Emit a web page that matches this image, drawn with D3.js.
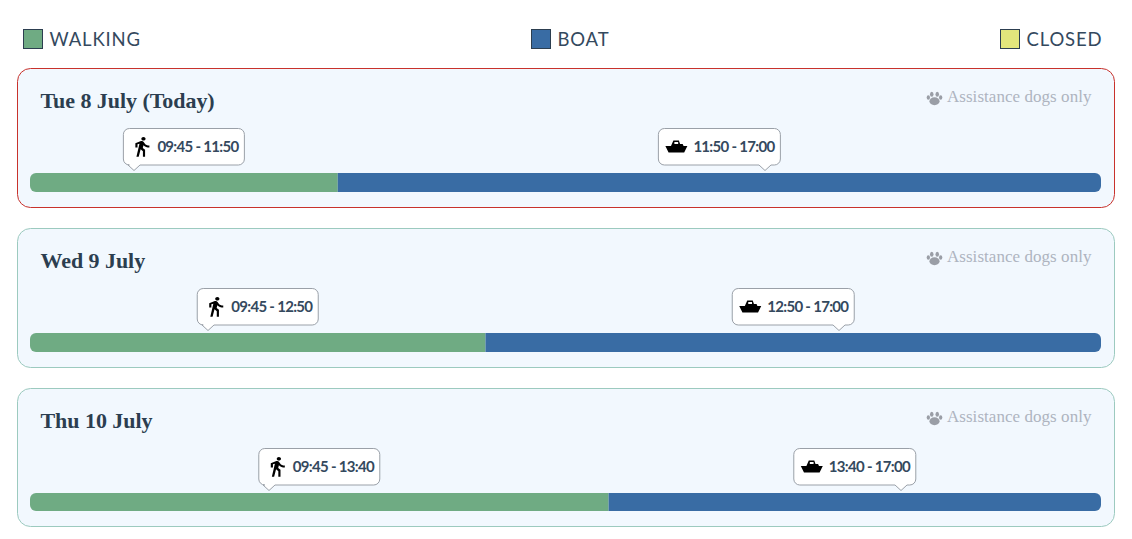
<!DOCTYPE html>
<html>
<head>
<meta charset="utf-8">
<script src="https://cdn.jsdelivr.net/npm/d3@7"></script>
<style>
  html, body { margin: 0; padding: 0; background: #fff; }
  svg { display: block; }
  .legend-label { font-family: Lato, sans-serif; font-weight: 400; font-size: 18.5px; letter-spacing: .85px; fill: #34495e; }
  .day-title { font-family: "Liberation Serif", serif; font-weight: 700; font-size: 22px; letter-spacing: -.05px; fill: #2c3e50; }
  .dogs { font-family: "Liberation Serif", serif; font-size: 17px; letter-spacing: .05px; fill: #aeb4c0; }
  .tip-text { font-family: Lato, sans-serif; font-weight: 700; font-size: 15px; letter-spacing: -.7px; fill: #34495e; }
</style>
</head>
<body>
<div id="chart"></div>
<script>
// Values
const days = ['Tue 8 July (Today)', 'Wed 9 July', 'Thu 10 July'];
const todayFlags = [true, false, false];
const openTimes = ['09:45', '09:45', '09:45'];
const changeTimes = ['11:50', '12:50', '13:40'];
const closeTimes = ['17:00', '17:00', '17:00'];
const legendNames = ['WALKING', 'BOAT', 'CLOSED'];
const legendColors = ['#6fab83', '#396ca4', '#e2e67c'];
const dogsNote = 'Assistance dogs only';

const width = 1132;
const height = 539;
const parseTime = d3.timeParse('%H:%M');

const x = d3.scaleTime()
  .domain([parseTime('09:45'), parseTime('17:00')])
  .range([30, 1101]);

const cardY = d3.scalePoint().domain(days).range([68.5, 388.5]);
const cardHeights = [139, 139, 138];

const svg = d3.select('#chart').append('svg')
  .attr('width', width)
  .attr('height', height);

// Legend
const legendX = [23.5, 531.5, 1000.5];
const legend = svg.selectAll('.legend').data(legendNames).join('g')
  .attr('class', 'legend')
  .attr('transform', (d, i) => `translate(${legendX[i]},29.5)`);
legend.append('rect')
  .attr('width', 19).attr('height', 19)
  .attr('fill', (d, i) => legendColors[i])
  .attr('stroke', '#2c3e50').attr('stroke-width', 1);
legend.append('text')
  .attr('class', 'legend-label')
  .attr('x', 26).attr('y', 16)
  .text(d => d);

const walkIcon = 'M13.5 5.5c1.1 0 2-.9 2-2s-.9-2-2-2-2 .9-2 2 .9 2 2 2zM9.8 8.9L7 23h2.1l1.8-8 2.1 2v6h2v-7.5l-2.1-2 .6-3C14.8 12 16.8 13 19 13v-2c-1.9 0-3.5-1-4.3-2.4l-1-1.6c-.4-.6-1-1-1.7-1-.3 0-.5.1-.8.1L6 8.3V13h2V9.6l1.8-.7';
const boatIcon = 'M8 0h5.5l1.2 3.6h2.6l.9 1.9H22L18.8 12H3.2L0 5.5h5.6zM9 1.4v2h3.8v-2z';

function tooltip(g, midX, anchor, barTop, label, kind) {
  // box sits relative to the middle of its segment, the arrow is offset towards the box edge
  const boxW = kind === 'walk' ? 121 : 122;
  const boxL = kind === 'walk' ? midX - 60.5 : midX - 61;
  const boxT = barTop - 45;
  const boxH = 36.5;
  const r = 6;
  const tipX = Math.round(midX + anchor);
  const b = boxT + boxH;
  const p = d3.path();
  p.moveTo(boxL + r, boxT);
  p.lineTo(boxL + boxW - r, boxT);
  p.arcTo(boxL + boxW, boxT, boxL + boxW, boxT + r, r);
  p.lineTo(boxL + boxW, b - r);
  p.arcTo(boxL + boxW, b, boxL + boxW - r, b, r);
  p.lineTo(tipX + 6, b);
  p.lineTo(tipX, b + 5.5);
  p.lineTo(tipX - 6, b);
  p.lineTo(boxL + r, b);
  p.arcTo(boxL, b, boxL, b - r, r);
  p.lineTo(boxL, boxT + r);
  p.arcTo(boxL, boxT, boxL + r, boxT, r);
  p.closePath();
  g.append('path').attr('d', p.toString())
    .attr('fill', '#fff').attr('stroke', '#9aa0a8').attr('stroke-width', 1);
  if (kind === 'walk') {
    g.append('path').attr('d', walkIcon)
      .attr('transform', `translate(${boxL + 5.5},${boxT + 7}) scale(1.08,0.92)`)
      .attr('fill', '#000');
  } else {
    g.append('path').attr('d', boatIcon)
      .attr('transform', `translate(${boxL + 7},${boxT + 12})`)
      .attr('fill', '#000');
  }
  g.append('text')
    .attr('class', 'tip-text')
    .attr('x', boxL + (kind === 'walk' ? 34 : 35))
    .attr('y', boxT + 23.5)
    .text(label);
}

// One card per day
const cards = svg.selectAll('.card').data(days).join('g')
  .attr('class', 'card')
  .attr('transform', d => `translate(0,${cardY(d)})`);

cards.each(function (day, i) {
  const g = d3.select(this);
  const open = parseTime(openTimes[i]);
  const change = parseTime(changeTimes[i]);
  const close = parseTime(closeTimes[i]);
  const cardH = cardHeights[i];
  const barTop = 104.5;
  const barH = cardH === 139 ? 19 : 18;

  g.append('rect')
    .attr('x', 17.5).attr('width', 1097).attr('height', cardH)
    .attr('rx', 13)
    .attr('fill', '#f2f8fe')
    .attr('stroke', todayFlags[i] ? '#c8322c' : '#9ccabf')
    .attr('stroke-width', 1);

  g.append('text')
    .attr('class', 'day-title')
    .attr('x', 40.5).attr('y', 39.5)
    .text(day);

  // paw + note
  const paw = g.append('g').attr('fill', '#9a9ea6').attr('transform', 'translate(934.5,29.5) scale(1.1)');
  paw.append('ellipse').attr('cx', 0).attr('cy', 3).attr('rx', 4.6).attr('ry', 3.6);
  paw.append('ellipse').attr('cx', -2.5).attr('cy', -3.4).attr('rx', 1.6).attr('ry', 2.3);
  paw.append('ellipse').attr('cx', 2.5).attr('cy', -3.4).attr('rx', 1.6).attr('ry', 2.3);
  paw.append('ellipse').attr('cx', -5.6).attr('cy', -.4).attr('rx', 1.5).attr('ry', 2.1);
  paw.append('ellipse').attr('cx', 5.6).attr('cy', -.4).attr('rx', 1.5).attr('ry', 2.1);
  g.append('text')
    .attr('class', 'dogs')
    .attr('x', 1091.5).attr('y', 33.5)
    .attr('text-anchor', 'end')
    .text(dogsNote);

  // bar: clip the two segments to the rounded track
  const clipId = `track-${i}`;
  g.append('clipPath').attr('id', clipId).append('rect')
    .attr('x', x(open)).attr('y', barTop)
    .attr('width', x(close) - x(open)).attr('height', barH)
    .attr('rx', 6);
  const bars = g.append('g').attr('clip-path', `url(#${clipId})`);
  bars.append('rect')
    .attr('x', x(open)).attr('y', barTop)
    .attr('width', x(change) - x(open)).attr('height', barH)
    .attr('fill', legendColors[0]);
  bars.append('rect')
    .attr('x', x(change)).attr('y', barTop)
    .attr('width', x(close) - x(change)).attr('height', barH)
    .attr('fill', legendColors[1]);

  tooltip(g, (x(open) + x(change)) / 2, -50, barTop + .5,
    `${openTimes[i]} - ${changeTimes[i]}`, 'walk');
  tooltip(g, (x(change) + x(close)) / 2, 46, barTop + .5,
    `${changeTimes[i]} - ${closeTimes[i]}`, 'boat');
});
</script>
</body>
</html>
